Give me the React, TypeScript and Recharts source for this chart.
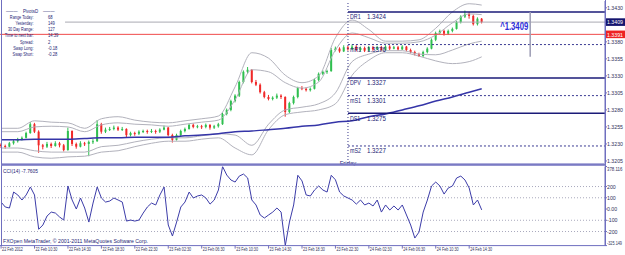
import React from 'react';
import { ComposedChart, LineChart, Line, Bar, XAxis, YAxis, ReferenceLine } from 'recharts';

const FONT = '"Liberation Sans", Arial, sans-serif';
const FRAME = '#6f6fbf';
const NAVY = '#1c1c74';
const AXIS_TXT = '#30305a';
const GREEN = '#2fbf4f';
const RED = '#f02828';
const BAND = '#b2b2bc';

// ---- data (30-min bars from 22 Feb 06:30) ----
const candles: number[][] = [
  [1.3229,1.3231,1.3224,1.3227],[1.3227,1.3229,1.3223,1.3226],[1.3226,1.3233,1.3225,1.3231],[1.3231,1.3236,1.3229,1.3234],
  [1.3234,1.3239,1.3232,1.3237],[1.3237,1.3241,1.3235,1.3239],[1.3239,1.3248,1.3238,1.3246],[1.3246,1.3262,1.3245,1.3259],
  [1.3259,1.3261,1.3246,1.3248],[1.3248,1.3250,1.3217,1.3228],[1.3228,1.3230,1.3222,1.3226],[1.3226,1.3233,1.3224,1.3230],
  [1.3230,1.3232,1.3224,1.3227],[1.3227,1.3234,1.3226,1.3231],[1.3231,1.3233,1.3225,1.3228],[1.3228,1.3230,1.3219,1.3221],
  [1.3221,1.3254,1.3220,1.3249],[1.3249,1.3250,1.3227,1.3230],[1.3230,1.3232,1.3223,1.3226],[1.3226,1.3234,1.3225,1.3231],
  [1.3231,1.3233,1.3227,1.3230],[1.3230,1.3235,1.3212,1.3233],[1.3233,1.3237,1.3230,1.3234],[1.3234,1.3265,1.3233,1.3259],
  [1.3259,1.3261,1.3245,1.3248],[1.3248,1.3254,1.3246,1.3251],[1.3251,1.3255,1.3249,1.3252],[1.3252,1.3257,1.3250,1.3254],
  [1.3254,1.3256,1.3249,1.3251],[1.3251,1.3255,1.3249,1.3252],[1.3252,1.3253,1.3240,1.3243],[1.3243,1.3248,1.3241,1.3246],
  [1.3246,1.3248,1.3242,1.3245],[1.3245,1.3250,1.3243,1.3248],[1.3248,1.3251,1.3246,1.3249],[1.3249,1.3251,1.3245,1.3248],
  [1.3248,1.3252,1.3246,1.3249],[1.3249,1.3251,1.3245,1.3248],[1.3248,1.3253,1.3246,1.3251],[1.3251,1.3257,1.3250,1.3254],
  [1.3254,1.3255,1.3241,1.3243],[1.3243,1.3245,1.3232,1.3236],[1.3236,1.3245,1.3235,1.3243],[1.3243,1.3251,1.3241,1.3249],
  [1.3249,1.3254,1.3247,1.3252],[1.3252,1.3260,1.3251,1.3258],[1.3258,1.3260,1.3253,1.3255],[1.3255,1.3258,1.3253,1.3256],
  [1.3256,1.3258,1.3252,1.3255],[1.3255,1.3260,1.3253,1.3258],[1.3258,1.3259,1.3251,1.3254],[1.3254,1.3258,1.3252,1.3256],
  [1.3256,1.3261,1.3254,1.3259],[1.3259,1.3276,1.3258,1.3274],[1.3274,1.3282,1.3272,1.3280],[1.3280,1.3295,1.3278,1.3293],
  [1.3293,1.3303,1.3291,1.3301],[1.3301,1.3323,1.3299,1.3321],[1.3321,1.3338,1.3319,1.3336],[1.3336,1.3343,1.3333,1.3339],
  [1.3339,1.3340,1.3319,1.3321],[1.3321,1.3324,1.3315,1.3317],[1.3317,1.3319,1.3304,1.3306],[1.3306,1.3308,1.3297,1.3299],
  [1.3299,1.3302,1.3294,1.3296],[1.3296,1.3300,1.3294,1.3298],[1.3298,1.3304,1.3296,1.3301],[1.3301,1.3303,1.3296,1.3299],
  [1.3299,1.3300,1.3270,1.3277],[1.3277,1.3292,1.3275,1.3290],[1.3290,1.3301,1.3288,1.3299],[1.3299,1.3314,1.3297,1.3312],
  [1.3312,1.3315,1.3309,1.3311],[1.3311,1.3313,1.3307,1.3309],[1.3309,1.3313,1.3307,1.3311],[1.3311,1.3326,1.3310,1.3324],
  [1.3324,1.3335,1.3322,1.3333],[1.3333,1.3338,1.3331,1.3336],[1.3336,1.3339,1.3333,1.3337],[1.3337,1.3371,1.3336,1.3368],
  [1.3368,1.3373,1.3366,1.3370],[1.3370,1.3372,1.3364,1.3366],[1.3366,1.3375,1.3365,1.3372],[1.3372,1.3374,1.3367,1.3369],
  [1.3369,1.3376,1.3368,1.3373],[1.3373,1.3375,1.3366,1.3368],[1.3368,1.3373,1.3366,1.3371],[1.3371,1.3373,1.3365,1.3367],
  [1.3367,1.3374,1.3366,1.3372],[1.3372,1.3374,1.3367,1.3369],[1.3369,1.3374,1.3368,1.3372],[1.3372,1.3374,1.3366,1.3368],
  [1.3368,1.3375,1.3367,1.3373],[1.3373,1.3375,1.3368,1.3370],[1.3370,1.3374,1.3369,1.3372],[1.3372,1.3374,1.3367,1.3369],
  [1.3369,1.3375,1.3368,1.3373],[1.3373,1.3374,1.3366,1.3368],[1.3368,1.3370,1.3363,1.3365],[1.3365,1.3367,1.3360,1.3362],
  [1.3362,1.3364,1.3358,1.3359],[1.3359,1.3367,1.3358,1.3365],[1.3365,1.3372,1.3363,1.3370],[1.3370,1.3385,1.3369,1.3383],
  [1.3383,1.3395,1.3381,1.3393],[1.3393,1.3398,1.3391,1.3396],[1.3396,1.3398,1.3389,1.3392],[1.3392,1.3398,1.3390,1.3396],
  [1.3396,1.3401,1.3394,1.3399],[1.3399,1.3411,1.3398,1.3409],[1.3409,1.3419,1.3407,1.3417],[1.3417,1.3426,1.3415,1.3421],
  [1.3421,1.3424,1.3414,1.3418],[1.3418,1.3420,1.3404,1.3406],[1.3406,1.3416,1.3404,1.3414],[1.3414,1.3415,1.3407,1.3409],
];

const cciValues = [
  62,18,9,151,125,80,125,196,125,-180,
  -142,-62,-27,-36,-71,-98,205,80,0,98,
  9,-116,53,196,98,62,71,98,80,62,
  -107,-98,-107,-98,-36,18,53,36,125,196,
  -142,-240,-116,18,62,151,98,116,125,98,
  44,80,169,378.116,302,258,240,293,311,276,
  80,36,-53,-80,-53,-27,9,-27,-325.149,-116,
  36,300,250,125,116,169,205,169,151,300,
  260,151,116,98,80,44,80,36,53,27,
  80,-27,36,-9,27,-9,36,-53,-142,-258,
  -205,-27,80,205,240,205,133,187,205,276,
  293,258,187,36,80,-7.7605,
];

const bandIdx = [0,4,8,12,16,20,24,28,32,36,40,44,48,52,56,60,64,68,72,76,80,84,88,92,96,100,104,108,112,115];
const upper3 = [1.3253,1.3253,1.3264,1.3262,1.3261,1.3253,1.3267,1.3270,1.3265,1.3262,1.3261,1.3264,1.3267,1.3271,1.3314,1.3364,1.3356,1.3331,1.3320,1.3330,1.3386,1.3412,1.3398,1.3381,1.3381,1.3383,1.3400,1.3424,1.3436,1.3434];
const upper2 = [1.3248,1.3248,1.3255,1.3256,1.3255,1.3248,1.3258,1.3261,1.3259,1.3258,1.3256,1.3259,1.3262,1.3265,1.3295,1.3339,1.3336,1.3320,1.3312,1.3321,1.3368,1.3393,1.3386,1.3378,1.3378,1.3380,1.3390,1.3408,1.3421,1.3420];
const lower2 = [1.3224,1.3224,1.3220,1.3218,1.3218,1.3218,1.3226,1.3228,1.3233,1.3237,1.3239,1.3239,1.3242,1.3245,1.3243,1.3228,1.3259,1.3280,1.3284,1.3289,1.3305,1.3351,1.3362,1.3367,1.3367,1.3362,1.3361,1.3368,1.3377,1.3381];
const lower3 = [1.3218,1.3218,1.3211,1.3209,1.3211,1.3212,1.3218,1.3220,1.3226,1.3231,1.3234,1.3234,1.3237,1.3239,1.3224,1.3214,1.3251,1.3273,1.3277,1.3280,1.3289,1.3331,1.3353,1.3364,1.3364,1.3359,1.3352,1.3348,1.3351,1.3358];
const maValues = [1.3236,1.3236,1.3237,1.3237,1.3237,1.3238,1.3239,1.3239,1.3240,1.3240,1.3240,1.3242,1.3243,1.3245,1.3248,1.3249,1.3251,1.3253,1.3256,1.3258,1.3262,1.3264,1.3270,1.3274,1.3280,1.3286,1.3293,1.3299,1.3306,1.3311];

const timeTickIdx = [0,8,16,24,32,40,48,56,64,72,80,88,96,104,112];
const timeLabels = ['22 Feb 2012','22 Feb 10:30','22 Feb 14:30','22 Feb 18:30','22 Feb 22:30','23 Feb 02:30','23 Feb 06:30','23 Feb 10:30','23 Feb 14:30','23 Feb 18:30','23 Feb 22:30','24 Feb 02:30','24 Feb 06:30','24 Feb 10:30','24 Feb 14:30'];

const BID = 1.3409;
const ALERT = 1.3391;
const priceTicks = [1.3430, BID, ALERT, 1.3380, 1.3355, 1.3330, 1.3305, 1.3280, 1.3255, 1.3230, 1.3205];
const cciTicks = [378.116, 200, 100, 0, -100, -200, -325.149];
const cciLevels = [200, 100, -100, -200];

const pivotNames = ['DR1', 'mR1', 'DPV', 'mS1', 'DS1', 'mS2'];
const pivotValues = [1.3424, 1.3376, 1.3327, 1.3301, 1.3275, 1.3227];
const pivotSolid = [true, false, true, false, true, false];

const infoLabels = ['Range Today:', 'Yesterday:', '30 Day Range:', 'Time to next bar:', 'Spread:', 'Swap Long:', 'Swap Short:'];
const infoValues = ['68', '149', '127', '14:39', '2', '-0.18', '-0.28'];

const FRIDAY_IDX = 83;
const BID_LINE_START = 15.3;
const MARK_IDX = 126.6;
const MARK_TOP = 1.3424;
const MARK_BOTTOM = 1.3358;
const SLOTS = 145;

const rows: any[] = Array.from({ length: SLOTS }, (_, i) => {
  const r: any = { i };
  const c = candles[i];
  if (c) {
    r.o = c[0]; r.h = c[1]; r.l = c[2]; r.c = c[3];
    r.range = [c[2], c[1]];
    r.cci = cciValues[i];
  }
  return r;
});
bandIdx.forEach((bi, k) => {
  rows[bi].u3 = upper3[k];
  rows[bi].u2 = upper2[k];
  rows[bi].l2 = lower2[k];
  rows[bi].l3 = lower3[k];
  rows[bi].ma = maValues[k];
});

const T = ({ x, y, sx = 1, size = 6, fill = NAVY, anchor = 'start', weight = 400, len, children }: any) =>
  len ? (
    <text x={x} y={y} fontSize={size} fill={fill} textAnchor={anchor} fontWeight={weight} fontFamily={FONT}
      textLength={len} lengthAdjust="spacingAndGlyphs">{children}</text>
  ) : (
    <text transform={`translate(${x},${y}) scale(${sx},1)`} fontSize={size} fill={fill} textAnchor={anchor}
      fontWeight={weight} fontFamily={FONT}>{children}</text>
  );

const CandleShape = (props: any) => {
  const { x, y, width, height, payload } = props;
  if (!payload || payload.h == null || !isFinite(y)) return null;
  const { o, h, l, c } = payload;
  const span = h - l || 1e-9;
  const yOf = (v: number) => y + ((h - v) / span) * height;
  const cx = x + width / 2;
  const col = c >= o ? GREEN : RED;
  const top = yOf(Math.max(o, c));
  const bot = yOf(Math.min(o, c));
  return (
    <g>
      <line x1={cx} x2={cx} y1={y} y2={y + height} stroke={col} strokeWidth={1} />
      <rect x={cx - 1} y={top} width={2} height={Math.max(bot - top, 1)} fill={col} />
    </g>
  );
};

const PriceTick = (props: any) => {
  const { x, y, payload } = props;
  const v = payload.value;
  const txt = v.toFixed(4);
  if (v === BID || v === ALERT) {
    const fill = v === BID ? '#15156e' : '#ee2222';
    return (
      <g>
        <rect x={x - 1.5} y={y - 3.8} width={21} height={7.6} fill={fill} />
        <T x={x} y={y + 2.2} sx={0.87} fill="#ffffff">{txt}</T>
      </g>
    );
  }
  return <T x={x} y={y + 2.2} sx={0.87} fill={AXIS_TXT}>{txt}</T>;
};

const CciTick = (props: any) => {
  const { x, y, payload } = props;
  const v = payload.value;
  if (v === cciTicks[0]) return <T x={x} y={y + 4.5} size={5.6} sx={0.78} fill={AXIS_TXT}>378.116</T>;
  if (v === cciTicks[cciTicks.length - 1]) return <T x={x} y={y - 0.6} size={5.6} sx={0.68} fill={AXIS_TXT}>-325.149</T>;
  const txt = v === 0 ? '0.00' : String(v);
  return <T x={x} y={y + 2.2} sx={0.87} fill={AXIS_TXT}>{txt}</T>;
};

const TimeTick = (props: any) => {
  const { x, y, payload } = props;
  const k = timeTickIdx.indexOf(payload.value);
  if (k < 0) return null;
  return <T x={x + 1} y={y + 2} sx={0.62} fill={AXIS_TXT}>{timeLabels[k]}</T>;
};

const pivotLabel = (name: string, value: number) => (p: any) => {
  const vb = p.viewBox || {};
  return (
    <g>
      <T x={vb.x + 2} y={vb.y + 7.3} size={6.5} sx={0.82} fill={NAVY}>{name}</T>
      <T x={vb.x + 19} y={vb.y + 7.3} size={6.5} sx={0.95} fill={NAVY}>{value.toFixed(4)}</T>
    </g>
  );
};

const fridayLabel = (p: any) => {
  const vb = p.viewBox || {};
  return <T x={vb.x} y={vb.y + vb.height + 1.6} size={6} anchor="middle" fill={NAVY}>Friday</T>;
};

const markLabel = (p: any) => {
  const vb = p.viewBox || {};
  return <T x={vb.x - 2} y={vb.y + 18} size={10} weight={700} anchor="end" fill="#2b2bd8" len={28}>^1.3409</T>;
};

export default function App() {
  return (
    <div style={{ position: 'absolute', left: 0, top: 0, width: 625, height: 255, background: '#ffffff', overflow: 'hidden' }}>
      <div style={{ position: 'absolute', left: 0, top: 0 }}>
        <ComposedChart width={625} height={166} data={rows} margin={{ top: 1, right: 0, bottom: 3, left: -1 }}>
          <XAxis dataKey="i" type="number" domain={[-0.5, 144.5]} hide allowDataOverflow />
          <YAxis orientation="right" width={20} type="number" domain={[1.3202, 1.344]} allowDataOverflow
            ticks={priceTicks} interval={0} tickSize={2} tickMargin={0}
            tickLine={{ stroke: FRAME }} axisLine={{ stroke: FRAME }} tick={(p: any) => <PriceTick {...p} />} />
          <Line dataKey="u3" type="monotone" stroke={BAND} strokeWidth={1} dot={false} connectNulls isAnimationActive={false} />
          <Line dataKey="u2" type="monotone" stroke={BAND} strokeWidth={1} dot={false} connectNulls isAnimationActive={false} />
          <Line dataKey="l2" type="monotone" stroke={BAND} strokeWidth={1} dot={false} connectNulls isAnimationActive={false} />
          <Line dataKey="l3" type="monotone" stroke={BAND} strokeWidth={1} dot={false} connectNulls isAnimationActive={false} />
          <Line dataKey="ma" type="monotone" stroke="#3535a8" strokeWidth={1.5} dot={false} connectNulls isAnimationActive={false} />
          <Bar dataKey="range" barSize={2} shape={(p: any) => <CandleShape {...p} />} isAnimationActive={false} />
          <ReferenceLine y={ALERT} stroke="#f04a4a" strokeWidth={1} />
          <ReferenceLine segment={[{ x: BID_LINE_START, y: BID }, { x: 144.5, y: BID }]} stroke="#a9a9b3" strokeWidth={1} />
          {pivotNames.map((n, k) => (
            <ReferenceLine key={n} segment={[{ x: FRIDAY_IDX, y: pivotValues[k] }, { x: 144.5, y: pivotValues[k] }]}
              stroke={pivotSolid[k] ? '#1b1b78' : '#3a3a92'} strokeWidth={pivotSolid[k] ? 1.5 : 1}
              strokeDasharray={pivotSolid[k] ? undefined : '2 2'} label={pivotLabel(n, pivotValues[k])} />
          ))}
          <ReferenceLine x={FRIDAY_IDX} stroke="#3a3a8a" strokeDasharray="1 2" strokeWidth={1} label={fridayLabel} />
          <ReferenceLine segment={[{ x: MARK_IDX, y: MARK_TOP }, { x: MARK_IDX, y: MARK_BOTTOM }]}
            stroke="#9c9cb4" strokeWidth={1.5} label={markLabel} />
        </ComposedChart>
      </div>
      <div style={{ position: 'absolute', left: 0, top: 163 }}>
        <LineChart width={625} height={92} data={rows} margin={{ top: 3.5, right: 0, bottom: 0, left: -1 }}>
          <XAxis dataKey="i" type="number" domain={[-0.5, 144.5]} allowDataOverflow ticks={timeTickIdx} interval={0}
            height={9.4} tickSize={3} tickMargin={0} tickLine={{ stroke: FRAME }} axisLine={{ stroke: FRAME }}
            tick={(p: any) => <TimeTick {...p} />} />
          <YAxis orientation="right" width={20} type="number" domain={[-325.149, 378.116]} allowDataOverflow
            ticks={cciTicks} interval={0} tickSize={2} tickMargin={0}
            tickLine={{ stroke: FRAME }} axisLine={{ stroke: FRAME }} tick={(p: any) => <CciTick {...p} />} />
          {cciLevels.map((v) => (
            <ReferenceLine key={v} y={v} stroke="#a9a9bd" strokeDasharray="1 2" strokeWidth={1} />
          ))}
          <Line dataKey="cci" type="linear" stroke="#3c3ca8" strokeWidth={1} dot={false} isAnimationActive={false} />
        </LineChart>
      </div>
      <svg width={625} height={255} style={{ position: 'absolute', left: 0, top: 0, pointerEvents: 'none' }}>
        <line x1={1.5} x2={1.5} y1={0} y2={246} stroke={FRAME} strokeWidth={1} />
        <line x1={605.5} x2={605.5} y1={0} y2={246} stroke={FRAME} strokeWidth={1} />
        <rect x={1} y={163.4} width={605} height={2.4} fill="#7a7ac4" />
        <T x={6} y={13} size={5.5} sx={0.7} fill={NAVY}>———</T>
        <T x={30.5} y={13} size={5.5} sx={0.8} anchor="middle" fill={NAVY}>PivotsD</T>
        <T x={43} y={13} size={5.5} sx={0.7} fill={NAVY}>———</T>
        {infoLabels.map((lab, k) => (
          <g key={lab}>
            <T x={33.5} y={18.5 + k * 6.25} size={5.5} sx={0.7} anchor="end" fill={NAVY}>{lab}</T>
            <T x={48} y={18.5 + k * 6.25} size={5.5} sx={0.75} fill={NAVY}>{infoValues[k]}</T>
          </g>
        ))}
        <T x={3} y={173} size={6} len={35} fill={NAVY}>CCI(14) -7.7605</T>
        <T x={3} y={242.6} size={6} len={145} fill={NAVY}>FXOpen MetaTrader, © 2001-2011 MetaQuotes Software Corp.</T>
      </svg>
    </div>
  );
}
